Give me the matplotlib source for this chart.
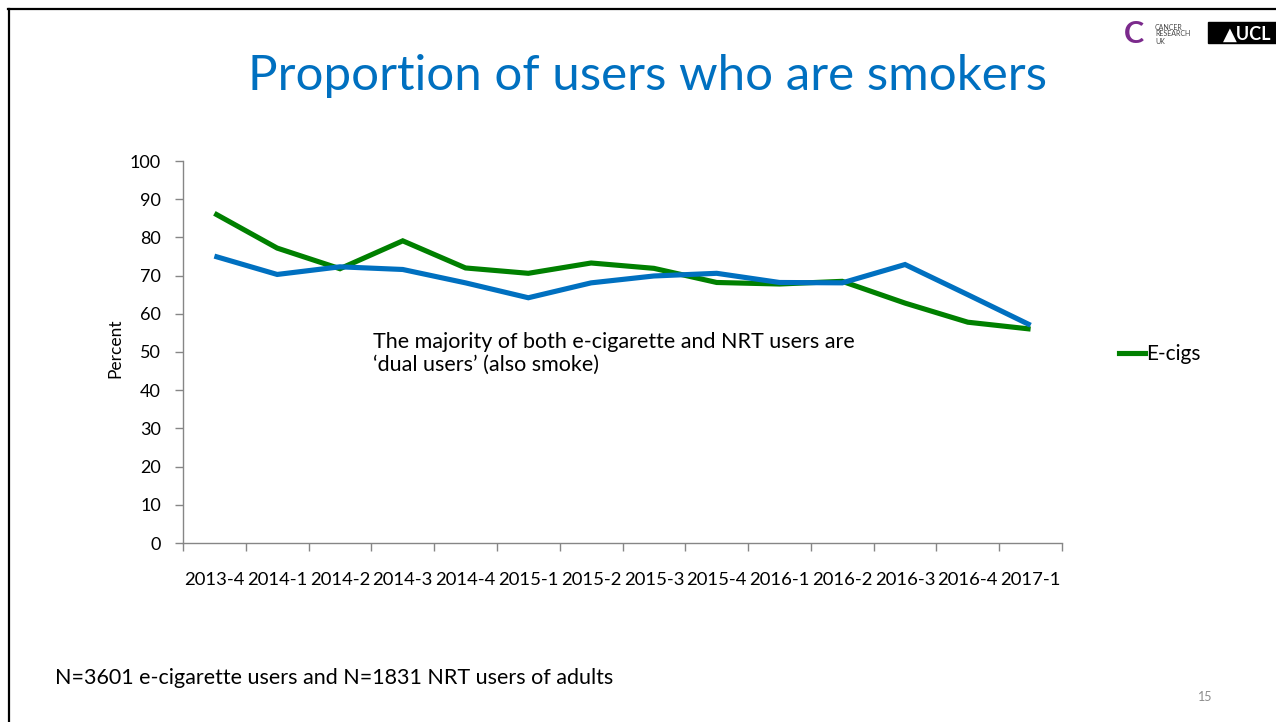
import numpy as np
import matplotlib
matplotlib.use("Agg")
from matplotlib import pyplot as plt
from matplotlib.lines import Line2D
from matplotlib.patches import Rectangle

plt.rcParams['font.family'] = ['Lato', 'DejaVu Sans']

quarters = ['2013-4', '2014-1', '2014-2', '2014-3', '2014-4', '2015-1', '2015-2',
            '2015-3', '2015-4', '2016-1', '2016-2', '2016-3', '2016-4', '2017-1']
ecigs = [86.3, 77.2, 71.8, 79.1, 72.0, 70.6, 73.3, 71.9, 68.2, 67.8, 68.5, 62.8, 57.8, 56.0]
nrt = [75.1, 70.3, 72.3, 71.6, 68.1, 64.2, 68.1, 69.9, 70.6, 68.2, 68.1, 72.9, 65.0, 57.0]

W, H = 1276, 722
fig = plt.figure(figsize=(W / 100, H / 100), dpi=100)
fig.patch.set_facecolor('white')

ax = fig.add_axes([183 / W, 1 - 543 / H, 879 / W, 382 / H])
x = np.arange(len(quarters))
ax.plot(x, ecigs, color='#008000', lw=3.7, solid_joinstyle='miter', solid_capstyle='butt', zorder=3)
ax.plot(x, nrt, color='#0070C0', lw=3.7, solid_joinstyle='miter', solid_capstyle='butt', zorder=3)

ax.set_xlim(-0.5, len(quarters) - 0.5)
ax.set_ylim(0, 100)
ax.set_yticks(np.arange(0, 101, 10))
ax.set_xticks(np.arange(-0.5, len(quarters), 1.0))
ax.set_xticklabels([])
ax.set_xticks(x, minor=True)
ax.set_xticklabels(quarters, minor=True, fontsize=13.3)
ax.tick_params(axis='x', which='minor', length=0, pad=21)
ax.tick_params(axis='x', which='major', length=6, color='#868686', width=1)
ax.tick_params(axis='y', length=6, color='#868686', width=1, labelsize=13, pad=10)
for s in ['top', 'right']:
    ax.spines[s].set_visible(False)
for s in ['left', 'bottom']:
    ax.spines[s].set_color('#868686')
    ax.spines[s].set_linewidth(1)
ax.set_ylabel('Percent', fontsize=12.5)
ax.yaxis.set_label_coords((123 - 183) / 879, (543 - 348) / 382)

ax.text(0.216, 0.552, "The majority of both e-cigarette and NRT users are\n\u2018dual users\u2019 (also smoke)",
        transform=ax.transAxes, fontsize=15.5, va='top', ha='left', linespacing=1.2)

fig.legend(handles=[Line2D([], [], color='#008000', lw=3.7)], labels=['E-cigs'],
           loc='center left', bbox_to_anchor=(1100 / W, 1 - 354 / H), frameon=False,
           handlelength=1.25, handletextpad=0.05, fontsize=15)

fig.text(648 / W, 1 - 76 / H, 'Proportion of users who are smokers', color='#0070C0',
         fontsize=35.5, ha='center', va='center')
fig.text(55 / W, 1 - 678 / H, 'N=3601 e-cigarette users and N=1831 NRT users of adults',
         fontsize=15.5, ha='left', va='center')
fig.text(1205 / W, 1 - 697 / H, '15', fontsize=9, color='#8c8c8c', ha='center', va='center')

# slide border
fig.add_artist(Line2D([8 / W, 1], [1 - 9 / H, 1 - 9 / H], color='black', lw=1.6, transform=fig.transFigure))
fig.add_artist(Line2D([9 / W, 9 / W], [0, 1 - 9 / H], color='black', lw=1.6, transform=fig.transFigure))

# logos
fig.text(1134 / W, 1 - 34 / H, 'C', color='#7b2a8c', fontsize=22, fontweight='bold',
         ha='center', va='center')
fig.text(1155 / W, 1 - 34 / H, 'CANCER\nRESEARCH\nUK', color='#444444', fontsize=5,
         ha='left', va='center', linespacing=1.0)
fig.add_artist(Rectangle((1208 / W, 1 - 43 / H), 68 / W, 21 / H, color='black',
                         transform=fig.transFigure))
fig.text(1247 / W, 1 - 34 / H, '\u25b2UCL', color='white', fontsize=13, fontweight='bold',
         ha='center', va='center')

fig.savefig('out.png', dpi=100)
